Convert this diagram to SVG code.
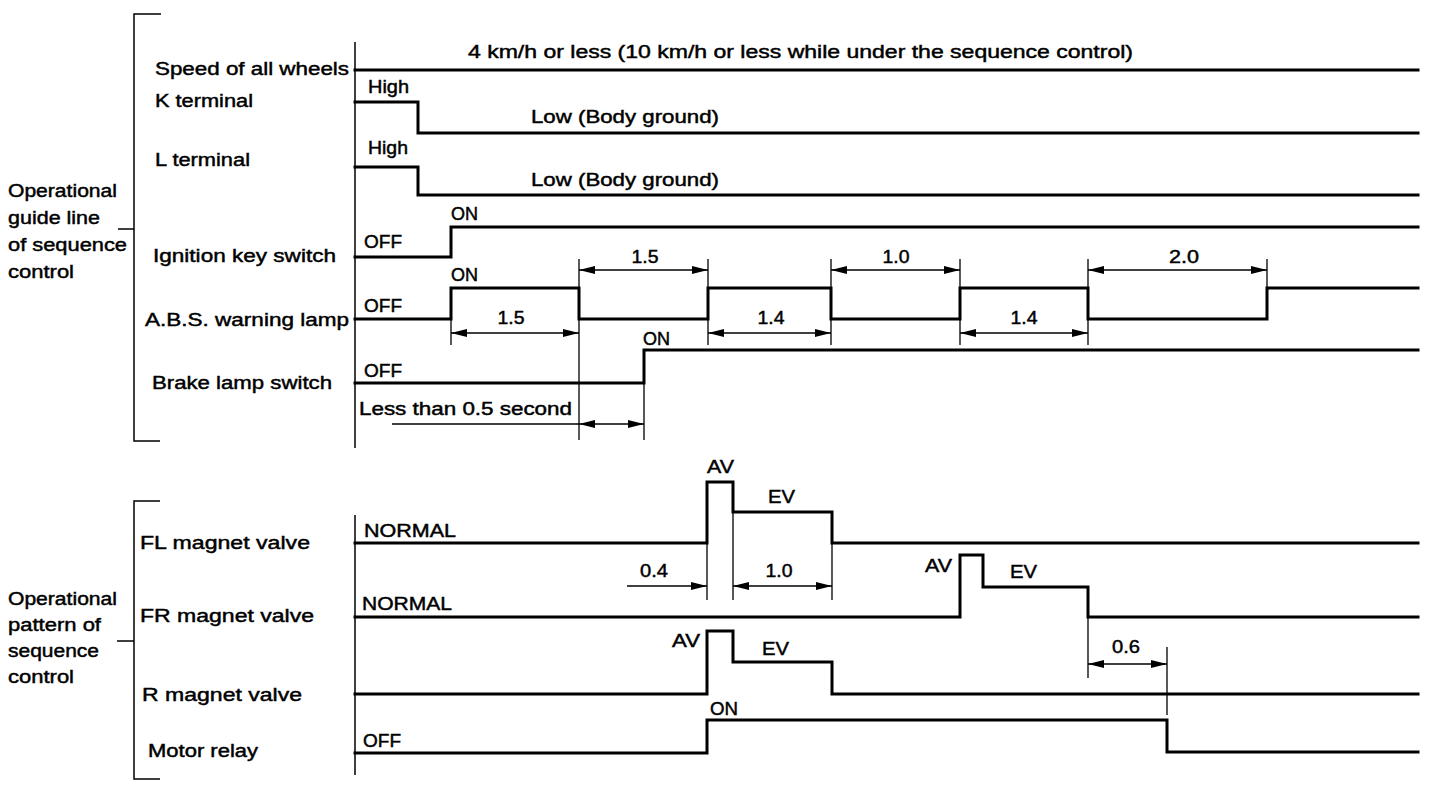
<svg xmlns="http://www.w3.org/2000/svg" width="1440" height="796" viewBox="0 0 1440 796">
<defs>
<marker id="ah" viewBox="0 0 16 8" refX="16" refY="4" markerWidth="16" markerHeight="8" markerUnits="userSpaceOnUse" orient="auto-start-reverse"><path d="M0,0 L16,4 L0,8 z" fill="#000"/></marker>
<style>
text{font-family:"Liberation Sans",Arial,Helvetica,sans-serif;font-size:18px;fill:#000;stroke:#000;stroke-width:0.45;font-weight:normal}
.m{text-anchor:middle}
.sig{fill:none;stroke:#000;stroke-width:3;stroke-linejoin:miter;stroke-linecap:square}
.thin{fill:none;stroke:#000;stroke-width:1.5}
.ext{fill:none;stroke:#000;stroke-width:1.3}
.dim{fill:none;stroke:#000;stroke-width:1.5;marker-start:url(#ah);marker-end:url(#ah)}
.dim1{fill:none;stroke:#000;stroke-width:1.5;marker-end:url(#ah)}
</style>
</defs>
<rect width="1440" height="796" fill="#fff"/>

<g id="frame">
<path class="thin" d="M161,14 H134 V441 H160 M118,229 H134"/>
<path class="thin" d="M160,501 H134 V779 H160 M117,641 H134"/>
<path class="thin" d="M355,42 V448 M355,515 V775"/>
<text x="8" y="197" textLength="109" lengthAdjust="spacingAndGlyphs">Operational</text>
<text x="8" y="224" textLength="92" lengthAdjust="spacingAndGlyphs">guide line</text>
<text x="8" y="251" textLength="119" lengthAdjust="spacingAndGlyphs">of sequence</text>
<text x="8" y="278" textLength="66" lengthAdjust="spacingAndGlyphs">control</text>
<text x="8" y="605" textLength="109" lengthAdjust="spacingAndGlyphs">Operational</text>
<text x="8" y="631" textLength="93" lengthAdjust="spacingAndGlyphs">pattern of</text>
<text x="8" y="657" textLength="91" lengthAdjust="spacingAndGlyphs">sequence</text>
<text x="8" y="683" textLength="66" lengthAdjust="spacingAndGlyphs">control</text>
</g>

<g id="speed">
<text x="155" y="75" textLength="194" lengthAdjust="spacingAndGlyphs">Speed of all wheels</text>
<path class="sig" d="M355,70 H1418"/>
<text x="468" y="58" textLength="665" lengthAdjust="spacingAndGlyphs">4 km/h or less (10 km/h or less while under the sequence control)</text>
</g>

<g id="k-terminal">
<text x="155" y="107" textLength="98" lengthAdjust="spacingAndGlyphs">K terminal</text>
<path class="sig" d="M355,102 H418 V133 H1418"/>
<text x="368" y="93" textLength="41" lengthAdjust="spacingAndGlyphs">High</text>
<text x="531" y="123" textLength="188" lengthAdjust="spacingAndGlyphs">Low (Body ground)</text>
</g>

<g id="l-terminal">
<text x="155" y="166" textLength="95" lengthAdjust="spacingAndGlyphs">L terminal</text>
<path class="sig" d="M355,167 H418 V195 H1418"/>
<text x="368" y="154" textLength="40" lengthAdjust="spacingAndGlyphs">High</text>
<text x="531" y="186" textLength="188" lengthAdjust="spacingAndGlyphs">Low (Body ground)</text>
</g>

<g id="ignition">
<text x="153" y="262" textLength="183" lengthAdjust="spacingAndGlyphs">Ignition key switch</text>
<path class="sig" d="M355,257 H451 V227 H1418"/>
<text x="364" y="248" textLength="38" lengthAdjust="spacingAndGlyphs">OFF</text>
<text x="451" y="220" textLength="27" lengthAdjust="spacingAndGlyphs">ON</text>
</g>

<g id="abs-lamp">
<text x="145" y="326" textLength="204" lengthAdjust="spacingAndGlyphs">A.B.S. warning lamp</text>
<path class="sig" d="M355,319 H451 V288 H579 V319 H708 V288 H831 V319 H960 V288 H1088 V319 H1267 V288 H1418"/>
<text x="364" y="312" textLength="38" lengthAdjust="spacingAndGlyphs">OFF</text>
<text x="451" y="281" textLength="27" lengthAdjust="spacingAndGlyphs">ON</text>
</g>

<g id="brake-switch">
<text x="152" y="389" textLength="180" lengthAdjust="spacingAndGlyphs">Brake lamp switch</text>
<path class="sig" d="M355,383 H644 V350 H1418"/>
<text x="364" y="377" textLength="38" lengthAdjust="spacingAndGlyphs">OFF</text>
<text x="643" y="345" textLength="27" lengthAdjust="spacingAndGlyphs">ON</text>
<text x="359" y="415" textLength="213" lengthAdjust="spacingAndGlyphs">Less than 0.5 second</text>
</g>

<g id="fl-valve">
<text x="140" y="549" textLength="170" lengthAdjust="spacingAndGlyphs">FL magnet valve</text>
<path class="sig" d="M355,543 H707 V482 H733 V512 H832 V543 H1418"/>
<text x="364" y="537" textLength="92" lengthAdjust="spacingAndGlyphs">NORMAL</text>
<text x="707" y="473" textLength="27" lengthAdjust="spacingAndGlyphs">AV</text>
<text x="768" y="503" textLength="27" lengthAdjust="spacingAndGlyphs">EV</text>
</g>

<g id="fr-valve">
<text x="140" y="622" textLength="174" lengthAdjust="spacingAndGlyphs">FR magnet valve</text>
<path class="sig" d="M355,617 H960 V555 H983 V587 H1088 V617 H1418"/>
<text x="362" y="610" textLength="90" lengthAdjust="spacingAndGlyphs">NORMAL</text>
<text x="925" y="572" textLength="27" lengthAdjust="spacingAndGlyphs">AV</text>
<text x="1010" y="578" textLength="27" lengthAdjust="spacingAndGlyphs">EV</text>
</g>

<g id="r-valve">
<text x="142" y="701" textLength="160" lengthAdjust="spacingAndGlyphs">R magnet valve</text>
<path class="sig" d="M355,694 H707 V631 H733 V662 H832 V694 H1418"/>
<text x="672" y="647" textLength="28" lengthAdjust="spacingAndGlyphs">AV</text>
<text x="762" y="655" textLength="27" lengthAdjust="spacingAndGlyphs">EV</text>
</g>

<g id="motor-relay">
<text x="148" y="757" textLength="110" lengthAdjust="spacingAndGlyphs">Motor relay</text>
<path class="sig" d="M355,753 H707 V720 H1167 V752 H1418"/>
<text x="363" y="747" textLength="38" lengthAdjust="spacingAndGlyphs">OFF</text>
<text x="710" y="715" textLength="28" lengthAdjust="spacingAndGlyphs">ON</text>
</g>

<g id="connectors">
<path class="ext" d="M579,259 V440 M708,259 V288 M708,319 V345 M831,259 V288 M831,319 V345 M960,259 V288 M960,319 V345 M1088,259 V288 M1088,319 V345 M1267,259 V288 M451,319 V345 M644,383 V440"/>
<line class="dim" x1="579" y1="270" x2="708" y2="270"/>
<line class="dim" x1="831" y1="270" x2="960" y2="270"/>
<line class="dim" x1="1088" y1="270" x2="1267" y2="270"/>
<line class="dim" x1="451" y1="333" x2="579" y2="333"/>
<line class="dim" x1="708" y1="333" x2="831" y2="333"/>
<line class="dim" x1="960" y1="333" x2="1088" y2="333"/>
<line class="dim" x1="579" y1="424" x2="644" y2="424"/>
<line class="ext" x1="392" y1="424" x2="579" y2="424"/>
<text class="m" x="645" y="263" textLength="27" lengthAdjust="spacingAndGlyphs">1.5</text>
<text class="m" x="896" y="263" textLength="27" lengthAdjust="spacingAndGlyphs">1.0</text>
<text class="m" x="1184" y="263" textLength="30" lengthAdjust="spacingAndGlyphs">2.0</text>
<text class="m" x="511" y="324" textLength="27" lengthAdjust="spacingAndGlyphs">1.5</text>
<text class="m" x="771" y="324" textLength="27" lengthAdjust="spacingAndGlyphs">1.4</text>
<text class="m" x="1024" y="324" textLength="27" lengthAdjust="spacingAndGlyphs">1.4</text>
<path class="ext" d="M707,543 V600 M733,512 V600 M832,543 V600 M1088,617 V678 M1167,647 V715"/>
<line class="dim1" x1="627" y1="586" x2="707" y2="586"/>
<line class="dim" x1="733" y1="586" x2="832" y2="586"/>
<line class="dim" x1="1088" y1="664" x2="1167" y2="664"/>
<text class="m" x="654" y="577" textLength="28" lengthAdjust="spacingAndGlyphs">0.4</text>
<text class="m" x="779" y="577" textLength="27" lengthAdjust="spacingAndGlyphs">1.0</text>
<text class="m" x="1126" y="653" textLength="28" lengthAdjust="spacingAndGlyphs">0.6</text>
</g>
</svg>
